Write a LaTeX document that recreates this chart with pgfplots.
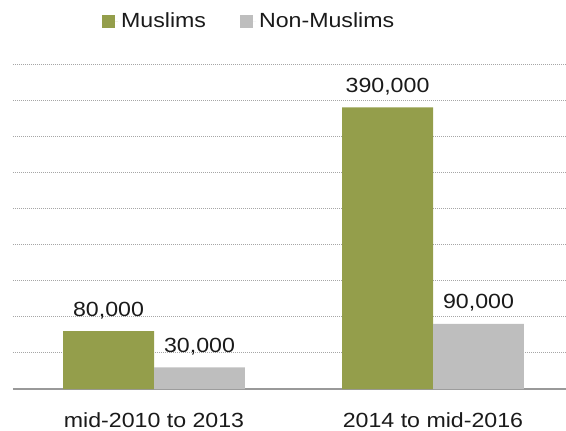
\documentclass[border=0pt]{standalone}
\usepackage{fontspec}
\setmainfont{Liberation Sans}[FakeStretch=1.13]
\usepackage{pgfplots}
\pgfplotsset{compat=1.18}
\definecolor{musgreen}{HTML}{949E4B}
\definecolor{nongrey}{HTML}{BEBEBE}
\definecolor{basegrey}{HTML}{999999}
\definecolor{gridgrey}{HTML}{A6A6A6}
\definecolor{txt}{HTML}{1A1A1A}
\newcommand{\bigf}{\fontsize{20.5bp}{24bp}\selectfont}
\begin{document}
\begin{tikzpicture}
\begin{axis}[
  scale only axis,
  width=553bp, height=325bp,
  xmin=-0.5054, xmax=1.4767,
  ymin=0, ymax=450000,
  scaled y ticks=false,
  axis x line=bottom, axis y line=left,
  x axis line style={-, draw=basegrey, line width=2bp},
  y axis line style={draw=none},
  xtick={0,1},
  xticklabels={mid-2010 to 2013, 2014 to mid-2016},
  xticklabel style={font=\bigf, anchor=base, yshift=-38bp, text=txt},
  ytick={50000,100000,150000,200000,250000,300000,350000,400000,450000},
  yticklabels={},
  major tick length=0pt,
  tick style={draw=none},
  ymajorgrids,
  major grid style={draw=gridgrey, line width=0.8bp, dash pattern=on 1bp off 1bp},
  ybar, bar width=0.326,
  nodes near coords,
  nodes near coords style={font=\bigf, anchor=base, yshift=15bp, text=txt},
  /pgf/number format/.cd, fixed, precision=0, 1000 sep={,}, assume math mode=true,
  /pgfplots/.cd,
  legend columns=2,
  legend style={draw=none, fill=none, at={(0.428,1.132)}, anchor=center,
    font=\bigf, text=txt, /tikz/every even column/.append style={column sep=31bp},
    nodes={inner xsep=3bp, inner ysep=0pt}, inner sep=0pt, row sep=0pt},
  legend image code/.code={\fill[#1,draw=none] (0bp,-6.5bp) rectangle (13bp,6.5bp); \path (0bp,0bp) -- (16bp,0bp);},
  clip=false,
]
\addplot[fill=musgreen, draw=none, bar shift=-0.163] coordinates {(0,80000) (1,390000)};
\addplot[fill=nongrey, draw=none, bar shift=0.163] coordinates {(0,30000) (1,90000)};
\legend{Muslims, Non-Muslims}
\coordinate (bl) at (rel axis cs:0,0);
\end{axis}
\pgfresetboundingbox
\path[use as bounding box] ([xshift=-13bp,yshift=-42bp]bl) rectangle ++(566bp,431bp);
\end{tikzpicture}
\end{document}
